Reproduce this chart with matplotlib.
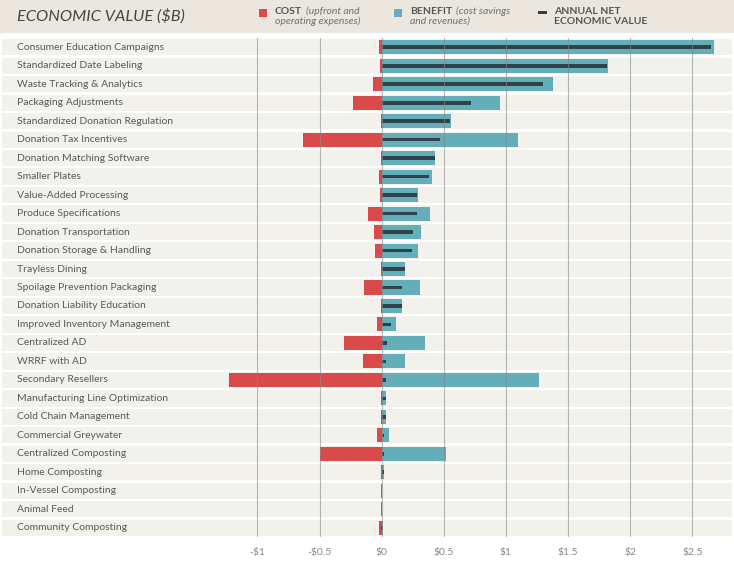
import numpy as np
from matplotlib import pyplot as plt
from matplotlib.patches import Rectangle

plt.rcParams['font.family'] = ['Lato', 'DejaVu Sans']

# 数据 (十亿美元)
solutions = ['Consumer Education Campaigns', 'Standardized Date Labeling', 'Waste Tracking & Analytics',
             'Packaging Adjustments', 'Standardized Donation Regulation', 'Donation Tax Incentives',
             'Donation Matching Software', 'Smaller Plates', 'Value-Added Processing',
             'Produce Specifications', 'Donation Transportation', 'Donation Storage & Handling',
             'Trayless Dining', 'Spoilage Prevention Packaging', 'Donation Liability Education',
             'Improved Inventory Management', 'Centralized AD', 'WRRF with AD', 'Secondary Resellers',
             'Manufacturing Line Optimization', 'Cold Chain Management', 'Commercial Greywater',
             'Centralized Composting', 'Home Composting', 'In-Vessel Composting', 'Animal Feed',
             'Community Composting']
cost = [-0.02, -0.01, -0.074, -0.23, -0.005, -0.635, -0.003, -0.025, -0.01, -0.11, -0.063, -0.052,
        -0.003, -0.145, -0.003, -0.041, -0.307, -0.15, -1.227, -0.003, -0.003, -0.038, -0.50, -0.003,
        -0.005, -0.008, -0.02]
benefit = [2.67, 1.82, 1.38, 0.95, 0.556, 1.10, 0.43, 0.405, 0.296, 0.39, 0.32, 0.296, 0.19, 0.31,
           0.164, 0.112, 0.35, 0.19, 1.263, 0.038, 0.035, 0.058, 0.52, 0.017, 0.0, 0.0, 0.014]
net = [2.65, 1.81, 1.30, 0.72, 0.55, 0.47, 0.43, 0.38, 0.285, 0.28, 0.25, 0.245, 0.19, 0.167,
       0.164, 0.074, 0.04, 0.038, 0.036, 0.036, 0.033, 0.02, 0.02, 0.015, 0.0, 0.0, -0.006]
ticks = [-1, -0.5, 0, 0.5, 1, 1.5, 2, 2.5]
tick_labels = ['-$1', '-$0.5', '$0', '$0.5', '$1', '$1.5', '$2', '$2.5']

RED = '#d94b4b'
TEAL = '#64aeb9'
DARK = '#2f4249'
BAND = '#f3f1ec'
HEAD = '#ebe7de'
W, H = 734, 567
ZERO, SCALE = 381.7, 124.3   # 像素位置

fig = plt.figure(figsize=(W / 100, H / 100), dpi=100)
fig.patch.set_facecolor('white')
renderer = fig.canvas.get_renderer()

# 标题栏
fig.patches.append(Rectangle((0, 1 - 33 / H), 1, 33 / H, transform=fig.transFigure,
                             facecolor=HEAD, edgecolor='none', zorder=0))
fig.text(17 / W, 1 - 16 / H, 'ECONOMIC VALUE ($B)', fontsize=11.8, style='italic',
         color='#454545', va='center')

def legend_item(x, patch_color, bold, rest1, rest2, dash=False):
    if dash:
        fig.patches.append(Rectangle((x / W, 1 - 13.5 / H), 9 / W, 3 / H, transform=fig.transFigure,
                                     facecolor=DARK, edgecolor='none'))
    else:
        fig.patches.append(Rectangle((x / W, 1 - 17 / H), 8 / W, 8 / H, transform=fig.transFigure,
                                     facecolor=patch_color, edgecolor='none'))
    t = fig.text((x + 16) / W, 1 - 11 / H, bold, fontsize=7.5, fontweight='bold', color='#555555', va='center')
    if dash:
        fig.text((x + 16) / W, 1 - 21.5 / H, rest2, fontsize=7.5, fontweight='bold', color='#555555', va='center')
    else:
        bb = t.get_window_extent(renderer)
        fig.text((bb.x1 + 4) / W, 1 - 11 / H, rest1, fontsize=7.5, style='italic',
                 color='#707070', va='center')
        fig.text((x + 16) / W, 1 - 21.5 / H, rest2, fontsize=7.5, style='italic', color='#707070', va='center')

legend_item(259, RED, 'COST', '(upfront and', 'operating expenses)')
legend_item(394, TEAL, 'BENEFIT', '(cost savings', 'and revenues)')
legend_item(538, DARK, 'ANNUAL NET', '', 'ECONOMIC VALUE', dash=True)

# 主图
top, bottom = 38, 537
ax = fig.add_axes([0, 1 - bottom / H, 1, (bottom - top) / H])
ax.set_facecolor('none')
n = len(solutions)
y = np.arange(n)
x0 = -ZERO / SCALE
x1 = (W - ZERO) / SCALE
ax.set_xlim(x0, x1)
ax.set_ylim(n - 0.5, -0.5)

for i in y:
    ax.add_patch(Rectangle((x0 + 2 / SCALE, i - 0.44), (730 / SCALE), 0.88, facecolor=BAND,
                           edgecolor='none', zorder=0))
    ax.text(17 / W, i, solutions[i], transform=ax.get_yaxis_transform(), fontsize=7.5,
            color='#5a5a5a', va='center')

ax.barh(y, cost, height=0.76, color=RED, zorder=2)
ax.barh(y, benefit, height=0.76, color=TEAL, zorder=2)
ax.barh(y, net, height=0.2, color=DARK, zorder=3)

for t in ticks:
    ax.axvline(t, color='#888888', lw=0.8, alpha=0.6, zorder=4)

ax.set_xticks(ticks)
ax.set_xticklabels(tick_labels, fontsize=7.5, color='#888888')
ax.tick_params(axis='x', length=0, pad=8)
ax.set_yticks([])
for s in ax.spines.values():
    s.set_visible(False)

plt.savefig('out.png', dpi=100)
